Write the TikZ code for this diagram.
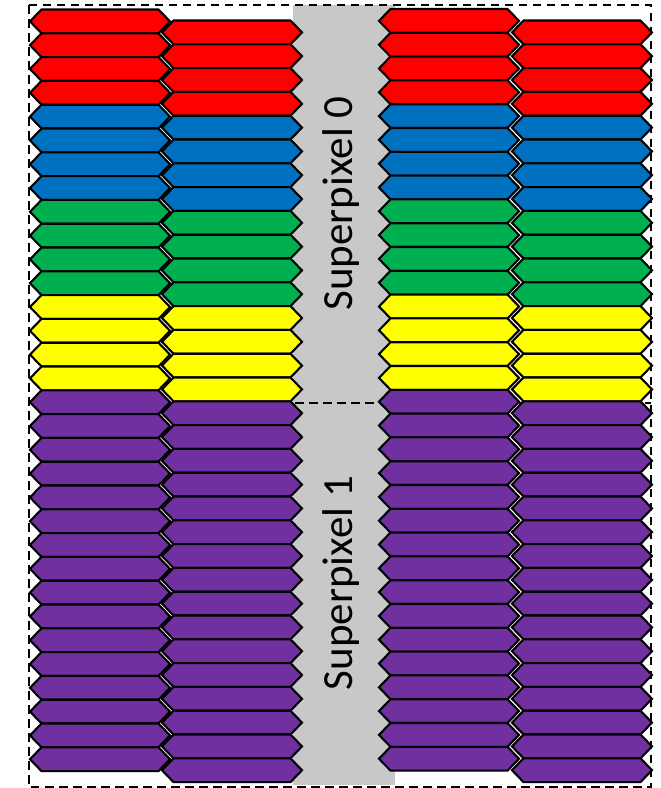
\documentclass[tikz,border=0pt]{standalone}
\usepackage{fontspec}
\setmainfont{Carlito}
\usepackage{xcolor}
\usepackage{tikz}
\usetikzlibrary{calc}

\definecolor{pxred}{HTML}{FF0000}
\definecolor{pxblue}{HTML}{0070C0}
\definecolor{pxgreen}{HTML}{00B050}
\definecolor{pxyellow}{HTML}{FFFF00}
\definecolor{pxpurple}{HTML}{7030A0}
\definecolor{bandgray}{HTML}{C8C8C8}

\tikzset{
  pixelhex/.style={draw=black, line width=2.1pt, line join=miter},
  spborder/.style={black, line width=2.4pt, dash pattern=on 8.5pt off 5.5pt},
  splabel/.style={font=\fontsize{43}{50}\selectfont, rotate=90, anchor=base, inner sep=0pt}
}

\begin{document}
\begin{tikzpicture}[x=1pt, y=-1pt]
  \useasboundingbox (0,0) rectangle (661,788);
  % gray band between the two halves
  \fill[bandgray] (293,5) rectangle (395,785);
  \draw[spborder] (29,403) -- (651,403);
  % columns of hexagonal pixels: column/left tip/top
  \foreach \xl/\yt in {30/9.5, 162/20.5, 379/9, 512/20.5}{
    \foreach \col/\first/\last in {pxred/0/3, pxblue/4/7, pxgreen/8/11, pxyellow/12/15, pxpurple/16/31}{
      \foreach \r in {\first,...,\last}{
        \pgfmathsetmacro\ya{\yt+23.8*\r}
        \draw[pixelhex, fill=\col]
          (\xl,\ya+11.9) -- (\xl+11.5,\ya) -- (\xl+128.5,\ya) -- (\xl+140,\ya+11.9)
          -- (\xl+128.5,\ya+23.8) -- (\xl+11.5,\ya+23.8) -- cycle;
      }
    }
  }
  % outer frame
  \draw[spborder] (29,5) rectangle (651,787);
  \node[splabel] (sp0) at (352,203.5) {Superpixel 0};
  \node[splabel] (sp1) at (352,583) {Superpixel 1};
\end{tikzpicture}
\end{document}
